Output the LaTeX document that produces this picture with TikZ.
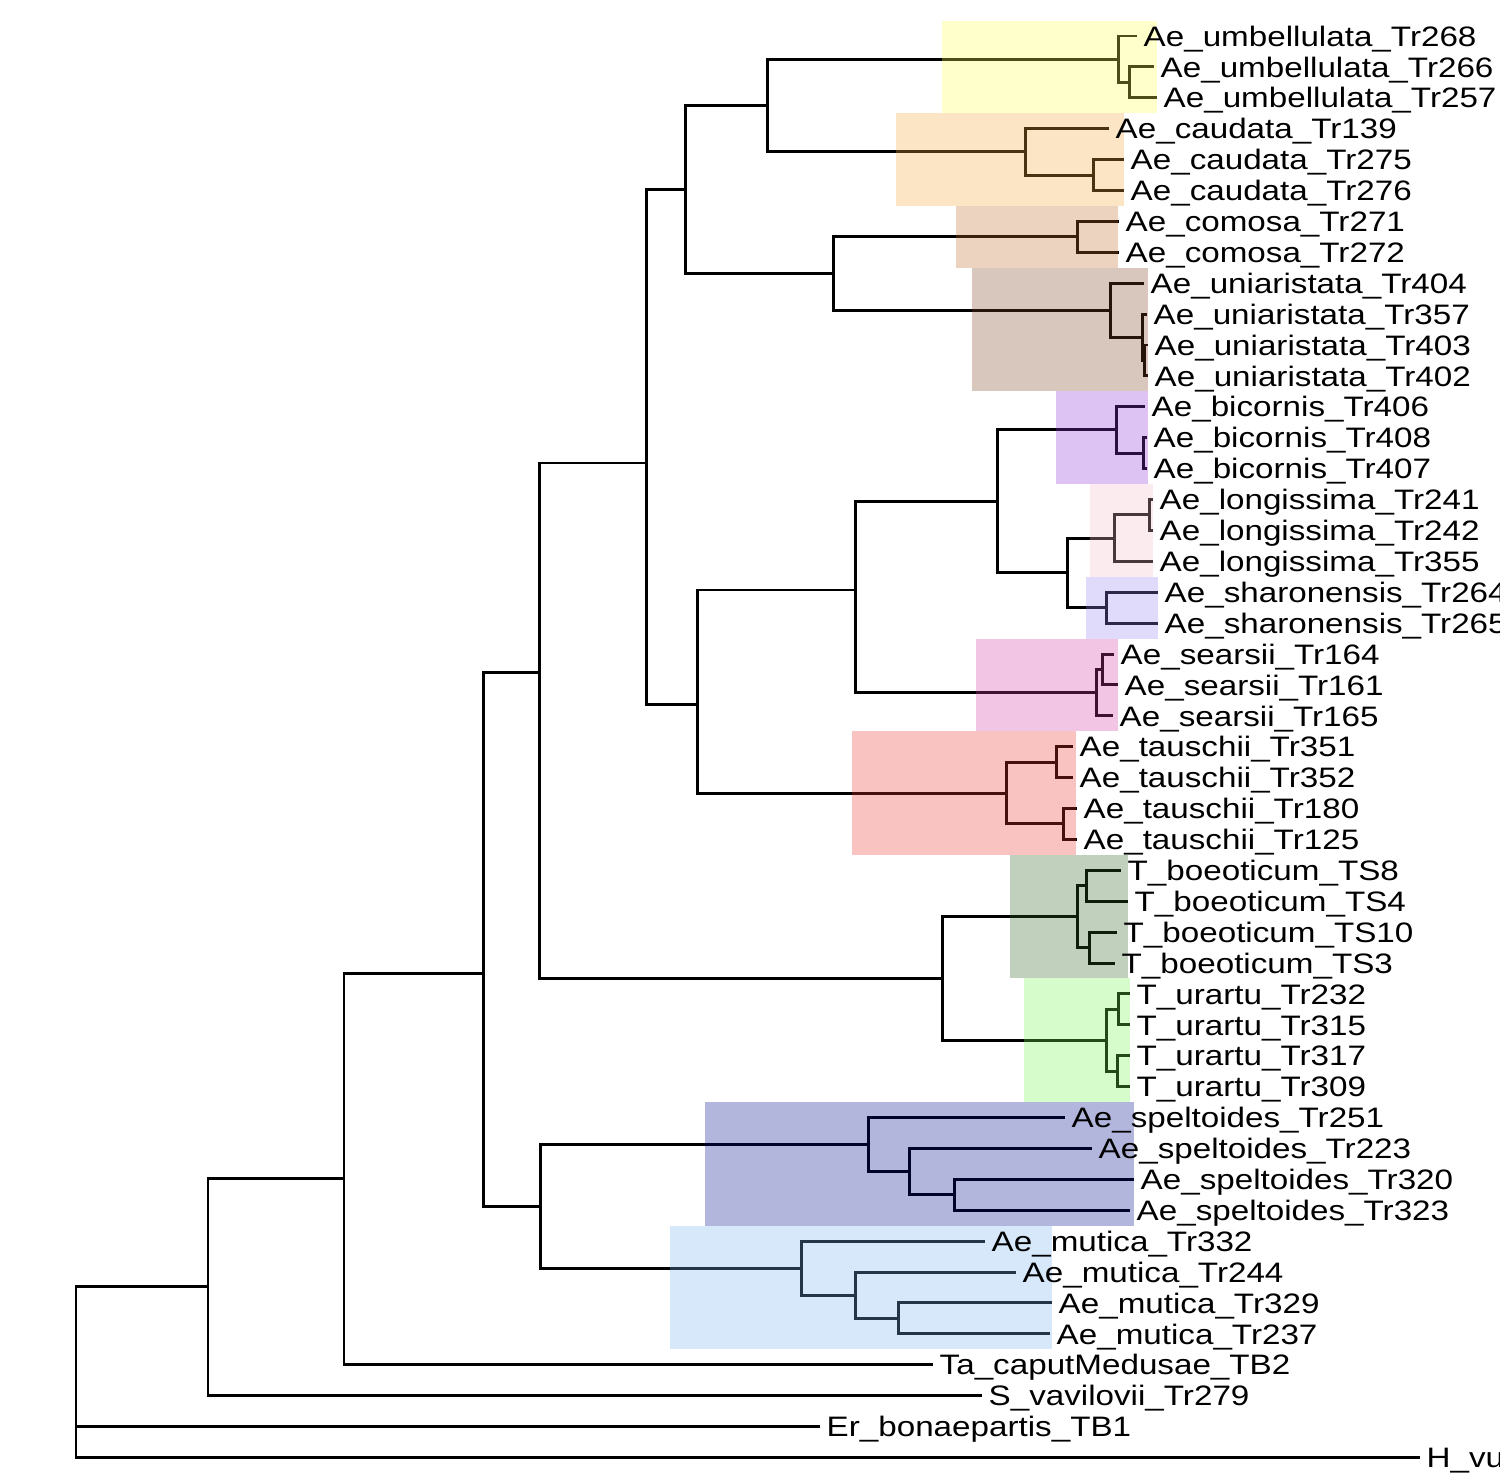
\documentclass[tikz,border=0pt]{standalone}
\usepackage{fontspec}
\setmainfont{Liberation Sans}[FakeStretch=1.18]
\definecolor{cumb}{RGB}{255,255,85}
\definecolor{ccau}{RGB}{242,169,58}
\definecolor{ccom}{RGB}{192,108,42}
\definecolor{cuni}{RGB}{125,68,35}
\definecolor{cbic}{RGB}{138,55,215}
\definecolor{clon}{RGB}{242,188,198}
\definecolor{csha}{RGB}{152,132,242}
\definecolor{csea}{RGB}{208,62,162}
\definecolor{ctau}{RGB}{232,55,45}
\definecolor{cboe}{RGB}{45,98,32}
\definecolor{cura}{RGB}{122,245,85}
\definecolor{cspe}{RGB}{2,12,138}
\definecolor{cmut}{RGB}{118,178,238}
\begin{document}
\begin{tikzpicture}[x=0.01cm,y=-0.01cm,
  br/.style={line width=0.85pt, draw=black},
  lab/.style={anchor=base west, inner sep=0pt, xshift=1.7pt, yshift=-2.9pt,
              font=\fontsize{8pt}{9.6pt}\selectfont},
  hl/.style={fill opacity=0.3}]
\useasboundingbox (0,0) rectangle (1500,1482);
% tip coordinates
\foreach \i/\x in {0/1137,1/1154,2/1157,3/1109,4/1124,5/1124,6/1119,7/1119,
 8/1144,9/1147,10/1148,11/1148,12/1145,13/1147,14/1147,15/1153,16/1153,17/1153,
 18/1158,19/1158,20/1114,21/1118,22/1113,23/1073,24/1073,25/1077,26/1077,
 27/1121,28/1128,29/1117,30/1115,31/1130,32/1130,33/1130,34/1130,
 35/1065,36/1092,37/1134,38/1130,39/985,40/1016,41/1052,42/1050,
 43/933,44/982,45/820,46/1420}
{
  \coordinate (e\i) at (\x,{36+30.9*\i});
}
% internal nodes
\coordinate (nUmb)  at (1118,59.18);
\coordinate (nUmbB) at (1129,82.35);
\coordinate (nCau)  at (1025,151.88);
\coordinate (nCauB) at (1093,175.05);
\coordinate (nCom)  at (1077,236.85);
\coordinate (nUni)  at (1110,310.24);
\coordinate (nUniB) at (1142,337.28);
\coordinate (nUniC) at (1144,360.45);
\coordinate (nBic)  at (1116,429.98);
\coordinate (nBicB) at (1143,453.15);
\coordinate (nLon)  at (1114,538.13);
\coordinate (nLonB) at (1149,514.95);
\coordinate (nSha)  at (1106,607.65);
\coordinate (nSea)  at (1096,692.63);
\coordinate (nSeaB) at (1102,669.45);
\coordinate (nTau)  at (1006,793.05);
\coordinate (nTauA) at (1056,762.15);
\coordinate (nTauB) at (1063,823.95);
\coordinate (nBoe)  at (1077,916.65);
\coordinate (nBoeA) at (1086,885.75);
\coordinate (nBoeB) at (1089,947.55);
\coordinate (nUra)  at (1106,1040.25);
\coordinate (nUraA) at (1118,1009.35);
\coordinate (nUraB) at (1117,1071.15);
\coordinate (nSpe)  at (868,1144.54);
\coordinate (nSpeB) at (909,1171.58);
\coordinate (nSpeC) at (954,1194.75);
\coordinate (nMut)  at (801,1268.14);
\coordinate (nMutB) at (855,1295.18);
\coordinate (nMutC) at (898,1318.35);
\coordinate (nA) at (767,105.53);
\coordinate (nB) at (833,273.55);
\coordinate (nC) at (685,189.54);
\coordinate (nD) at (997,501.44);
\coordinate (nE) at (1067,572.89);
\coordinate (nF) at (855,590);
\coordinate (nG) at (697,704);
\coordinate (nH) at (646,463);
\coordinate (nI) at (942,978.45);
\coordinate (nJ) at (539,672);
\coordinate (nK) at (540,1206.34);
\coordinate (nL) at (483,973);
\coordinate (nM) at (344,1178);
\coordinate (nN) at (208,1286);
\coordinate (root) at (76,1380);
% branches
\foreach \p/\c in {
 nUmb/e0, nUmb/nUmbB, nUmbB/e1, nUmbB/e2,
 nCau/e3, nCau/nCauB, nCauB/e4, nCauB/e5,
 nCom/e6, nCom/e7,
 nUni/e8, nUni/nUniB, nUniB/e9, nUniB/nUniC, nUniC/e10, nUniC/e11,
 nBic/e12, nBic/nBicB, nBicB/e13, nBicB/e14,
 nLon/nLonB, nLon/e17, nLonB/e15, nLonB/e16,
 nSha/e18, nSha/e19,
 nSea/nSeaB, nSea/e22, nSeaB/e20, nSeaB/e21,
 nTau/nTauA, nTau/nTauB, nTauA/e23, nTauA/e24, nTauB/e25, nTauB/e26,
 nBoe/nBoeA, nBoe/nBoeB, nBoeA/e27, nBoeA/e28, nBoeB/e29, nBoeB/e30,
 nUra/nUraA, nUra/nUraB, nUraA/e31, nUraA/e32, nUraB/e33, nUraB/e34,
 nSpe/e35, nSpe/nSpeB, nSpeB/e36, nSpeB/nSpeC, nSpeC/e37, nSpeC/e38,
 nMut/e39, nMut/nMutB, nMutB/e40, nMutB/nMutC, nMutC/e41, nMutC/e42,
 nA/nUmb, nA/nCau, nB/nCom, nB/nUni, nC/nA, nC/nB,
 nD/nBic, nD/nE, nE/nLon, nE/nSha, nF/nD, nF/nSea,
 nG/nF, nG/nTau, nH/nC, nH/nG, nI/nBoe, nI/nUra,
 nJ/nH, nJ/nI, nK/nSpe, nK/nMut, nL/nJ, nL/nK,
 nM/nL, nM/e43, nN/nM, nN/e44, root/nN, root/e45, root/e46}
{
  \draw[br] (\p) |- (\c);
}
% clade highlights
\fill[hl, cumb] (942,20.55) rectangle (1157,113.25);
\fill[hl, ccau] (896,113.25) rectangle (1124,205.95);
\fill[hl, ccom] (956,205.95) rectangle (1118,267.75);
\fill[hl, cuni] (972,267.75) rectangle (1148,391.35);
\fill[hl, cbic] (1056,391.35) rectangle (1148,484.05);
\fill[hl, clon] (1090,484.05) rectangle (1153,576.75);
\fill[hl, csha] (1086,576.75) rectangle (1158,638.55);
\fill[hl, csea] (976,638.55) rectangle (1118,731.25);
\fill[hl, ctau] (852,731.25) rectangle (1076,854.85);
\fill[hl, cboe] (1010,854.85) rectangle (1128,978.45);
\fill[hl, cura] (1024,978.45) rectangle (1130,1102.05);
\fill[hl, cspe] (705,1102.05) rectangle (1134,1225.65);
\fill[hl, cmut] (670,1225.65) rectangle (1052,1349.25);
% tip labels
\foreach \i/\t in {
 0/{Ae\_umbellulata\_Tr268},
 1/{Ae\_umbellulata\_Tr266},
 2/{Ae\_umbellulata\_Tr257},
 3/{Ae\_caudata\_Tr139},
 4/{Ae\_caudata\_Tr275},
 5/{Ae\_caudata\_Tr276},
 6/{Ae\_comosa\_Tr271},
 7/{Ae\_comosa\_Tr272},
 8/{Ae\_uniaristata\_Tr404},
 9/{Ae\_uniaristata\_Tr357},
 10/{Ae\_uniaristata\_Tr403},
 11/{Ae\_uniaristata\_Tr402},
 12/{Ae\_bicornis\_Tr406},
 13/{Ae\_bicornis\_Tr408},
 14/{Ae\_bicornis\_Tr407},
 15/{Ae\_longissima\_Tr241},
 16/{Ae\_longissima\_Tr242},
 17/{Ae\_longissima\_Tr355},
 18/{Ae\_sharonensis\_Tr264},
 19/{Ae\_sharonensis\_Tr265},
 20/{Ae\_searsii\_Tr164},
 21/{Ae\_searsii\_Tr161},
 22/{Ae\_searsii\_Tr165},
 23/{Ae\_tauschii\_Tr351},
 24/{Ae\_tauschii\_Tr352},
 25/{Ae\_tauschii\_Tr180},
 26/{Ae\_tauschii\_Tr125},
 27/{T\_boeoticum\_TS8},
 28/{T\_boeoticum\_TS4},
 29/{T\_boeoticum\_TS10},
 30/{T\_boeoticum\_TS3},
 31/{T\_urartu\_Tr232},
 32/{T\_urartu\_Tr315},
 33/{T\_urartu\_Tr317},
 34/{T\_urartu\_Tr309},
 35/{Ae\_speltoides\_Tr251},
 36/{Ae\_speltoides\_Tr223},
 37/{Ae\_speltoides\_Tr320},
 38/{Ae\_speltoides\_Tr323},
 39/{Ae\_mutica\_Tr332},
 40/{Ae\_mutica\_Tr244},
 41/{Ae\_mutica\_Tr329},
 42/{Ae\_mutica\_Tr237},
 43/{Ta\_caputMedusae\_TB2},
 44/{S\_vavilovii\_Tr279},
 45/{Er\_bonaepartis\_TB1},
 46/{H\_vu}}
{
  \node[lab] (l\i) at (e\i) {\t};
}
\end{tikzpicture}
\end{document}
